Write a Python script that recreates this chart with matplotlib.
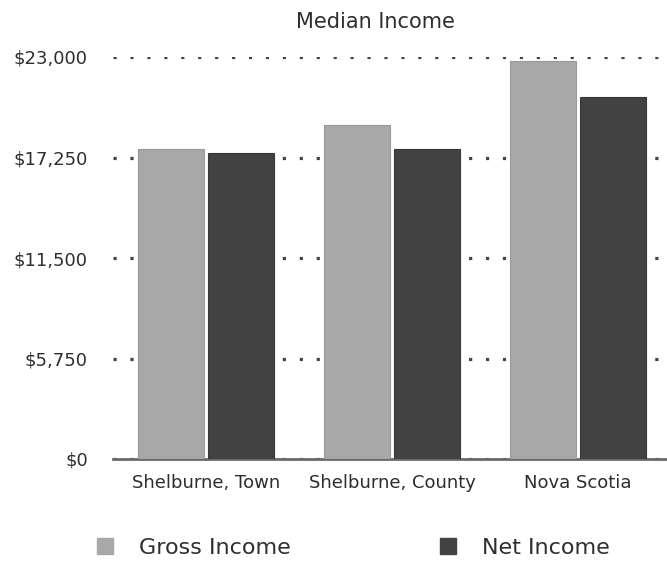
import matplotlib
matplotlib.use("Agg")
import matplotlib.pyplot as plt
from matplotlib.patches import Patch
from matplotlib.ticker import FixedLocator, FuncFormatter
import numpy as np

categories = ["Shelburne, Town", "Shelburne, County", "Nova Scotia"]
gross_income = [17720, 19110, 22770]
net_income = [17525, 17720, 20700]
y_ticks = [0, 5750, 11500, 17250, 23000]
series_names = ["Gross Income", "Net Income"]

GROSS_COLOR = "#a8a8a8"
NET_COLOR = "#424242"
TEXT_COLOR = "#2e2e2e"

plt.rcParams["font.family"] = ["DejaVu Sans"]

fig = plt.figure(figsize=(6.67, 5.63), dpi=100)
ax = fig.add_axes([113 / 667, 1 - 459 / 563, 558 / 667, 402 / 563])

x = np.arange(len(categories))
width = 0.355
offset = 0.19

ax.set_axisbelow(True)
ax.bar(x - offset, gross_income, width, color=GROSS_COLOR, edgecolor="#999999", linewidth=0.8, zorder=3)
ax.bar(x + offset, net_income, width, color=NET_COLOR, edgecolor="#383838", linewidth=0.8, zorder=3)

ax.set_xlim(-0.5, 2.5)
ax.set_ylim(0, 23000)
ax.yaxis.set_major_locator(FixedLocator(y_ticks))
ax.yaxis.set_major_formatter(FuncFormatter(lambda v, p: f"${v:,.0f}"))
ax.set_xticks(x)
ax.set_xticklabels(categories)

ax.grid(axis="y", color="#444444", linewidth=2.3, linestyle=(0, (1, 4.3)))
for line in ax.get_ygridlines():
    line.set_dash_capstyle("butt")

for side in ["top", "right", "left"]:
    ax.spines[side].set_visible(False)
ax.spines["bottom"].set_color("#6a6a6a")
ax.spines["bottom"].set_linewidth(2)

ax.tick_params(axis="y", length=0, pad=18, labelsize=13, labelcolor=TEXT_COLOR)
ax.tick_params(axis="x", length=0, pad=11, labelsize=13, labelcolor=TEXT_COLOR)

fig.text(375 / 667, 1 - 22 / 563, "Median Income", ha="center", va="center",
         fontsize=15, color=TEXT_COLOR)

colors = [GROSS_COLOR, NET_COLOR]
legend_x = [97 / 667, 440 / 667]
for name, color, lx in zip(series_names, colors, legend_x):
    fig.legend([Patch(facecolor=color, edgecolor=color)], [name], frameon=False,
               loc="center left", bbox_to_anchor=(lx, 1 - 548 / 563),
               borderpad=0, borderaxespad=0, fontsize=16,
               handlelength=0.72, handleheight=0.72, handletextpad=1.15,
               labelcolor=TEXT_COLOR)

fig.savefig("out.png", dpi=100)
